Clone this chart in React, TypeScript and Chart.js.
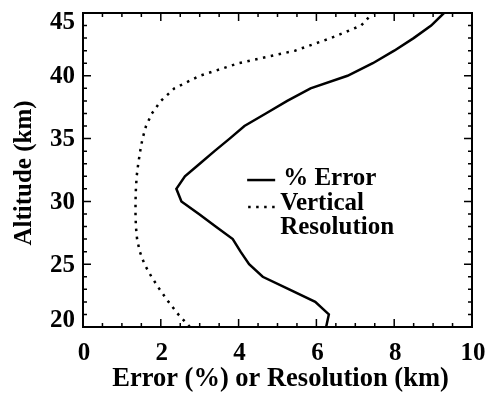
import React, { useEffect, useRef } from "react";
import { Chart, registerables } from "chart.js";

Chart.register(...registerables);

const altitudes = [20, 21, 22, 23, 24, 25, 26, 27, 28, 29, 30, 31, 32, 33, 34, 35, 36, 37, 38, 39, 40, 41, 42, 43, 44, 45];
const errorPct = [6.25, 6.32, 5.97, 5.3, 4.62, 4.27, 4.05, 3.85, 3.41, 2.98, 2.53, 2.4, 2.62, 3.0, 3.38, 3.77, 4.15, 4.7, 5.25, 5.85, 6.8, 7.45, 8.0, 8.5, 8.95, 9.28];
const resolution = [2.75, 2.45, 2.2, 1.97, 1.76, 1.58, 1.46, 1.39, 1.36, 1.35, 1.35, 1.36, 1.38, 1.42, 1.47, 1.53, 1.62, 1.77, 2.0, 2.35, 3.0, 4.0, 5.45, 6.37, 7.15, 7.45];

const xTicks = [0, 2, 4, 6, 8, 10];
const yTicks = [20, 25, 30, 35, 40, 45];
const xMinorStep = 0.5;
const yMinorStep = 1;

const xTitle = "Error (%) or Resolution (km)";
const yTitle = "Altitude (km)";
const legendLabels = ["% Error", "Vertical", "Resolution"];

const FONT = "bold 25px 'Liberation Serif', 'Times New Roman', serif";
const XTITLE_FONT = "bold 26.5px 'Liberation Serif', 'Times New Roman', serif";

const framePlugin = {
  id: "idlFrame",
  afterDatasetsDraw(chart: any) {
    const { ctx, chartArea: a, scales } = chart;
    const xs = scales.x;
    const ys = scales.y;
    ctx.save();
    ctx.strokeStyle = "#000";
    ctx.fillStyle = "#000";
    // frame
    ctx.lineWidth = 2;
    ctx.strokeRect(a.left, a.top, a.right - a.left, a.bottom - a.top);
    ctx.lineWidth = 1.5;
    // x ticks
    for (let v = xs.min; v <= xs.max + 1e-9; v += xMinorStep) {
      const px = xs.getPixelForValue(v);
      const major = xTicks.some((t) => Math.abs(t - v) < 1e-6);
      const len = major ? 8 : 4;
      ctx.beginPath();
      ctx.moveTo(px, a.bottom);
      ctx.lineTo(px, a.bottom - len);
      ctx.moveTo(px, a.top);
      ctx.lineTo(px, a.top + len);
      ctx.stroke();
    }
    for (let v = ys.min; v <= ys.max + 1e-9; v += yMinorStep) {
      const py = ys.getPixelForValue(v);
      const major = yTicks.some((t) => Math.abs(t - v) < 1e-6);
      const len = major ? 8 : 4;
      ctx.beginPath();
      ctx.moveTo(a.left, py);
      ctx.lineTo(a.left + len, py);
      ctx.moveTo(a.right, py);
      ctx.lineTo(a.right - len, py);
      ctx.stroke();
    }
    // tick labels
    ctx.font = FONT;
    ctx.textAlign = "center";
    ctx.textBaseline = "alphabetic";
    xTicks.forEach((t) => {
      const px = xs.getPixelForValue(t);
      ctx.fillText(String(t), px + 1, a.bottom + 33);
    });
    ctx.textAlign = "right";
    ctx.textBaseline = "middle";
    yTicks.forEach((t) => {
      let py = ys.getPixelForValue(t);
      py = Math.max(a.top + 9, Math.min(a.bottom - 7, py));
      ctx.fillText(String(t), a.left - 8, py + 1);
    });
    // axis titles
    ctx.textAlign = "center";
    ctx.textBaseline = "alphabetic";
    ctx.save();
    ctx.translate(31, (a.top + a.bottom) / 2 + 3);
    ctx.rotate(-Math.PI / 2);
    ctx.fillText(yTitle, 0, 0);
    ctx.restore();
    ctx.font = XTITLE_FONT;
    ctx.fillText(xTitle, (a.left + a.right) / 2 + 3, a.bottom + 59);
    ctx.font = FONT;
    // legend
    const lx0 = xs.getPixelForValue(4.22);
    const lx1 = xs.getPixelForValue(4.94);
    const ly1 = ys.getPixelForValue(31.7);
    ctx.lineWidth = 2.5;
    ctx.setLineDash([]);
    ctx.beginPath();
    ctx.moveTo(lx0, ly1);
    ctx.lineTo(lx1, ly1);
    ctx.stroke();
    ctx.textAlign = "left";
    ctx.fillText(legendLabels[0], lx1 + 8, ly1 + 5);
    const ly2 = ys.getPixelForValue(29.55);
    ctx.setLineDash([2.5, 5.5]);
    ctx.beginPath();
    ctx.moveTo(lx0 + 1, ly2);
    ctx.lineTo(lx1, ly2);
    ctx.stroke();
    ctx.setLineDash([]);
    ctx.fillText(legendLabels[1], lx1 + 5, ly2 + 3);
    ctx.fillText(legendLabels[2], lx1 + 5, ly2 + 27);
    ctx.restore();
  },
};

export default function App() {
  const ref = useRef<HTMLCanvasElement | null>(null);
  useEffect(() => {
    if (!ref.current) return;
    const chart = new Chart(ref.current, {
      type: "scatter",
      data: {
        datasets: [
          {
            label: legendLabels[0],
            data: altitudes.map((y, i) => ({ x: errorPct[i], y })),
            showLine: true,
            borderColor: "#000",
            borderWidth: 2.5,
            pointRadius: 0,
            tension: 0,
          },
          {
            label: legendLabels[1] + " " + legendLabels[2],
            data: altitudes.map((y, i) => ({ x: resolution[i], y })),
            showLine: true,
            borderColor: "#000",
            borderWidth: 2.5,
            borderDash: [2.5, 5.5],
            pointRadius: 0,
            tension: 0,
          },
        ],
      },
      options: {
        responsive: false,
        animation: false,
        devicePixelRatio: 1,
        layout: { padding: { top: 13, right: 13, left: 0, bottom: 0 } },
        plugins: { legend: { display: false }, tooltip: { enabled: false } },
        scales: {
          x: {
            type: "linear",
            min: 0,
            max: 10,
            grid: { display: false },
            border: { display: false },
            ticks: { display: false },
            afterFit: (s: any) => {
              s.height = 66;
            },
          },
          y: {
            type: "linear",
            min: 20,
            max: 45,
            grid: { display: false },
            border: { display: false },
            ticks: { display: false },
            afterFit: (s: any) => {
              s.width = 83;
            },
          },
        },
      },
      plugins: [framePlugin],
    });
    return () => chart.destroy();
  }, []);
  return (
    <div style={{ position: "absolute", left: 0, top: 0, width: 485, height: 393, background: "#fff" }}>
      <canvas ref={ref} width={485} height={393} style={{ width: 485, height: 393 }} />
    </div>
  );
}
